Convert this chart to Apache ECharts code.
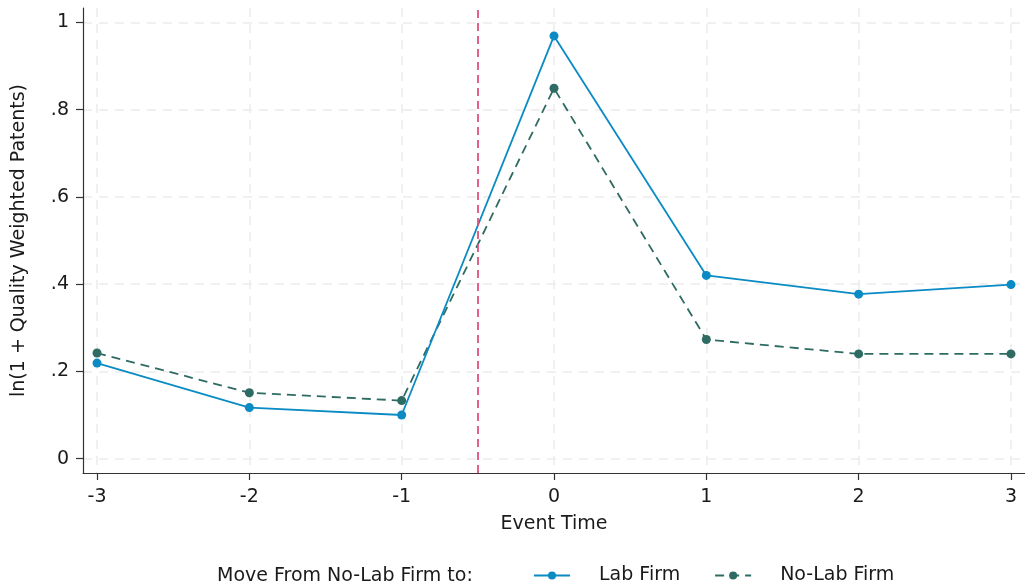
<!DOCTYPE html>
<html>
<head>
<meta charset="utf-8">
<script src="https://cdn.jsdelivr.net/npm/echarts@6/dist/echarts.min.js"></script>
<style>
  html, body { margin: 0; padding: 0; background: #fff; }
  #chart { width: 1025px; height: 588px; }
</style>
</head>
<body>
<div id="chart"></div>
<script>
// Event-study means of ln(1 + quality weighted patents)
const eventTimes = [-3, -2, -1, 0, 1, 2, 3];
const labFirm   = [0.219, 0.117, 0.100, 0.969, 0.420, 0.377, 0.399];
const noLabFirm = [0.242, 0.151, 0.133, 0.849, 0.273, 0.240, 0.240];
const yTicks = [0, 0.2, 0.4, 0.6, 0.8, 1];
const yTickLabels = ['0', '.2', '.4', '.6', '.8', '1'];
const xTickLabels = ['-3', '-2', '-1', '0', '1', '2', '3'];
const eventLine = -0.5;

const FONT = 'DejaVu Sans';
const FS = 19;
const labColor = '#0a8bc3';
const noLabColor = '#2e6b63';
const refColor = '#e0507a';
const textColor = '#1a1a1a';

const chart = echarts.init(document.getElementById('chart'), null, { renderer: 'canvas' });

const pair = (xs, ys) => xs.map((x, i) => [x, ys[i]]);

chart.setOption({
  animation: false,
  backgroundColor: '#fff',
  grid: { left: 83, right: 0, top: 8, bottom: 115, containLabel: false, outerBoundsMode: 'none' },
  xAxis: {
    type: 'value',
    min: -3.092,
    max: 3.092,
    name: 'Event Time',
    nameLocation: 'middle',
    nameGap: 42,
    nameTextStyle: { fontFamily: FONT, fontSize: FS, color: textColor },
    axisLine: { show: true, onZero: false, lineStyle: { color: '#333', width: 1.2 } },
    axisTick: { show: true, length: 7, customValues: eventTimes, lineStyle: { color: '#333', width: 1.2 } },
    axisLabel: {
      customValues: eventTimes,
      margin: 15,
      fontFamily: FONT, fontSize: FS, color: textColor,
      formatter: v => xTickLabels[eventTimes.indexOf(Math.round(v))]
    },
    splitLine: { show: true, lineStyle: { color: '#ebebeb', width: 1.5, type: [9, 7] } }
  },
  yAxis: {
    type: 'value',
    min: -0.033,
    max: 1.033,
    name: 'ln(1 + Quality Weighted Patents)',
    nameLocation: 'middle',
    nameGap: 54,
    nameTextStyle: { fontFamily: FONT, fontSize: FS, color: textColor },
    axisLine: { show: true, onZero: false, lineStyle: { color: '#333', width: 1.2 } },
    axisTick: { show: true, length: 7, customValues: yTicks, lineStyle: { color: '#333', width: 1.2 } },
    axisLabel: {
      customValues: yTicks,
      margin: 14,
      fontFamily: FONT, fontSize: FS, color: textColor,
      formatter: v => {
        const i = yTicks.findIndex(t => Math.abs(t - v) < 1e-6);
        return i >= 0 ? yTickLabels[i] : '';
      }
    },
    splitLine: { show: true, lineStyle: { color: '#ebebeb', width: 1.5, type: [9, 7] } }
  },
  legend: {
    left: 533,
    top: 566,
    padding: 0,
    itemWidth: 36,
    itemHeight: 10,
    itemGap: 34,
    textStyle: { fontFamily: FONT, fontSize: FS, color: textColor, padding: [0, 0, 0, 24] },
    data: ['Lab Firm', 'No-Lab Firm']
  },
  graphic: [{
    type: 'text',
    left: 217,
    top: 567,
    style: { text: 'Move From No-Lab Firm to:', font: FS + 'px "' + FONT + '"', fill: textColor }
  }],
  series: [
    {
      name: 'Lab Firm',
      type: 'line',
      data: pair(eventTimes, labFirm),
      symbol: 'circle',
      symbolSize: 9,
      itemStyle: { color: labColor },
      lineStyle: { color: labColor, width: 1.8 },
      z: 3,
      markLine: {
        silent: true,
        symbol: ['none', 'none'],
        label: { show: false },
        lineStyle: { color: refColor, width: 1.8, type: [8, 5] },
        data: [{ xAxis: eventLine }]
      }
    },
    {
      name: 'No-Lab Firm',
      type: 'line',
      data: pair(eventTimes, noLabFirm),
      symbol: 'circle',
      symbolSize: 9,
      itemStyle: { color: noLabColor },
      lineStyle: { color: noLabColor, width: 1.8, type: [9, 6] },
      z: 2
    }
  ]
});
</script>
</body>
</html>
